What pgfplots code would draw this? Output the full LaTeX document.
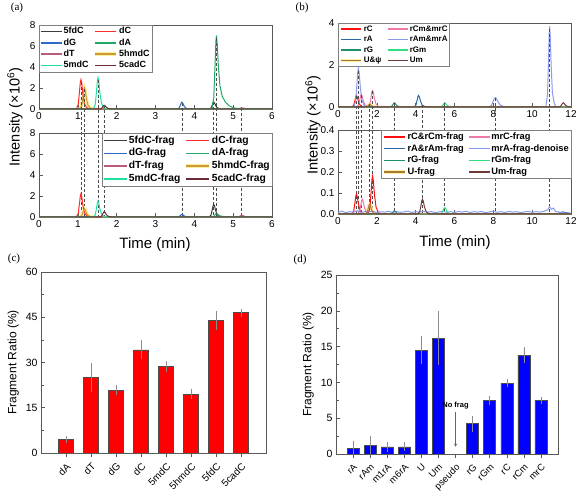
\documentclass[border=0pt]{standalone}
\usepackage{fontspec}
\setmainfont{Liberation Sans}
\newfontfamily\seriffont{Liberation Serif}
\usepackage{pgfplots}
\pgfplotsset{compat=1.18}
\definecolor{cfdC}{HTML}{3C3C3C}
\definecolor{cdC}{HTML}{FF2A2A}
\definecolor{cdG}{HTML}{2B6CC4}
\definecolor{cdA}{HTML}{22A862}
\definecolor{cdT}{HTML}{B85C7A}
\definecolor{chm}{HTML}{C89A3C}
\definecolor{cmdC}{HTML}{1EE0A0}
\definecolor{cca}{HTML}{6A2A36}
\definecolor{glow}{HTML}{FFEE99}
\definecolor{crC}{HTML}{FF1010}
\definecolor{crCm}{HTML}{F078A8}
\definecolor{crA}{HTML}{2A68A8}
\definecolor{crAm}{HTML}{8A9AF0}
\definecolor{crG}{HTML}{20906A}
\definecolor{crGm}{HTML}{30E080}
\definecolor{cU}{HTML}{A87840}
\definecolor{cUm}{HTML}{6E3A3A}
\pgfplotsset{
  base/.style={scale only axis, anchor=south west,
    axis line style={black!65, line width=0.6pt},
    every tick/.style={black!65, line width=0.5pt},
    tick pos=left, enlargelimits=false,
    /pgf/number format/assume math mode=true,
    tick label style={font=\fontsize{10}{12}\selectfont}},
  chrom/.style={base, width=233pt, height=84pt, clip=false,
    every axis plot/.append style={line width=1pt},
    legend columns=2, legend cell align=left},
  dl/.style={black!70, dash pattern=on 3pt off 2pt, line width=0.6pt, forget plot},
  gl/.style={glow, line width=3.4pt, forget plot},
  limg/.style={legend image code/.code={\draw[##1, line width=1.4pt] (0pt,0pt) -- (#1,0pt);}},
  glowleg/.style={legend image code/.code={\draw[glow,line width=3.6pt] (0pt,0pt) -- (#1,0pt);\draw[##1, line width=1.4pt] (0pt,0pt) -- (#1,0pt);}},
}
\begin{document}
\begin{tikzpicture}
\useasboundingbox (0pt,0pt) rectangle (581pt,497pt);
\node[font=\seriffont\fontsize{11}{12}\selectfont] at (17pt,489pt) {(a)};
\node[font=\seriffont\fontsize{11}{12}\selectfont] at (302pt,489pt) {(b)};
\node[font=\seriffont\fontsize{11}{12}\selectfont] at (14pt,238pt) {(c)};
\node[font=\seriffont\fontsize{11}{12}\selectfont] at (300pt,237pt) {(d)};
\node[font=\fontsize{15}{17}\selectfont] at (155pt,252pt) {Time (min)};
\node[font=\fontsize{15}{17}\selectfont] at (455pt,254pt) {Time (min)};
\node[font=\fontsize{14.5}{16}\selectfont, rotate=90] at (15pt,380pt) {Intensity (×10\textsuperscript{6})};
\node[font=\fontsize{14.5}{16}\selectfont, rotate=90] at (313pt,372pt) {Intensity (×10\textsuperscript{6})};

% ---------------- (a) top
\begin{axis}[chrom, at={(39pt,388pt)}, xmin=0, xmax=6, ymin=0, ymax=8,
  xtick={0,...,6}, ytick={0,2,...,8},
  legend style={at={(0,1)}, anchor=north west, draw=black!50, fill=white,
    font=\bfseries\fontsize{9}{10}\selectfont, inner sep=1pt, row sep=0.5pt,
    nodes={inner sep=1pt, text height=6.8pt, text depth=2pt},
    /tikz/every even column/.append style={column sep=4pt}},
  limg=21pt]
\addplot[gl] coordinates {(1.05,0)(1.10,0.3)(1.13,1.1)(1.155,1.84)(1.17,2.0)(1.19,1.76)(1.22,1.0)(1.26,0.36)(1.32,0.08)(1.39,0)};
\addplot[cfdC] coordinates {(0,0)(4.38,0)(4.43,0.1)(4.46,0.36)(4.485,0.6)(4.5,0.65)(4.52,0.57)(4.55,0.33)(4.59,0.12)(4.65,0.03)(4.72,0)(6,0)};
\addlegendentry{5fdC}
\addplot[cdC] coordinates {(0,0)(0.96,0)(1.01,0.42)(1.04,1.54)(1.065,2.58)(1.08,2.8)(1.10,2.46)(1.13,1.4)(1.17,0.5)(1.23,0.11)(1.30,0)(6,0)};
\addlegendentry{dC}
\addplot[cdG] coordinates {(0,0)(3.56,0)(3.61,0.1)(3.64,0.36)(3.665,0.6)(3.68,0.65)(3.70,0.57)(3.73,0.33)(3.77,0.12)(3.83,0.03)(3.90,0)(6,0)};
\addlegendentry{dG}
\addplot[cdA] coordinates {(0,0)(4.45,0)(4.50,1.05)(4.53,3.85)(4.555,6.44)(4.57,7.0)(4.59,6.2)(4.62,4.0)(4.66,2.2)(4.72,1.2)(4.8,0.65)(4.9,0.3)(5.0,0.12)(5.15,0.03)(5.3,0)(6,0)};
\addlegendentry{dA}
\addplot[cdT] coordinates {(0,0)(5.10,0)(5.15,0.04)(5.2,0.11)(5.22,0.12)(5.25,0.1)(5.3,0.05)(5.4,0)(6,0)};
\addlegendentry{dT}
\addplot[chm, glowleg=21pt] coordinates {(0,0)(1.05,0)(1.10,0.3)(1.13,1.1)(1.155,1.84)(1.17,2.0)(1.19,1.76)(1.22,1.0)(1.26,0.36)(1.32,0.08)(1.39,0)(6,0)};
\addlegendentry{5hmdC}
\addplot[cmdC] coordinates {(0,0)(1.40,0)(1.45,0.45)(1.48,1.65)(1.505,2.76)(1.52,3.0)(1.54,2.64)(1.57,1.5)(1.61,0.54)(1.67,0.12)(1.74,0)(6,0)};
\addlegendentry{5mdC}
\addplot[cca] coordinates {(0,0)(1.56,0)(1.61,0.05)(1.64,0.19)(1.665,0.32)(1.68,0.35)(1.70,0.31)(1.73,0.18)(1.77,0.06)(1.83,0.01)(1.90,0)(6,0)};
\addlegendentry{5cadC}
\addplot[dl] coordinates {(1.08,2.6)(1.08,-10.29)};
\addplot[dl] coordinates {(1.17,1.9)(1.17,-10.29)};
\addplot[dl] coordinates {(1.52,2.8)(1.52,-10.29)};
\addplot[dl] coordinates {(1.68,0.35)(1.68,-10.29)};
\addplot[dl] coordinates {(3.68,0.6)(3.68,-10.29)};
\addplot[dl] coordinates {(4.5,0.65)(4.5,-10.29)};
\addplot[dl] coordinates {(4.57,6.8)(4.57,-10.29)};
\addplot[dl] coordinates {(5.22,0.12)(5.22,-10.29)};
\end{axis}

% ---------------- (a) bottom
\begin{axis}[chrom, at={(39pt,280pt)}, xmin=0, xmax=6, ymin=0, ymax=8,
  xtick={0,...,6}, ytick={0,2,...,8},
  legend style={at={(1,1)}, anchor=north east, draw=black!50, fill=white,
    font=\bfseries\fontsize{10.3}{11}\selectfont, inner sep=1pt, row sep=0.6pt,
    nodes={inner sep=1pt, text height=7.9pt, text depth=2.4pt},
    /tikz/every even column/.append style={column sep=3pt}},
  limg=23pt]
\addplot[gl] coordinates {(1.05,0)(1.10,0.12)(1.13,0.44)(1.155,0.74)(1.17,0.8)(1.19,0.7)(1.22,0.4)(1.26,0.14)(1.32,0.03)(1.39,0)};
\addplot[cfdC] coordinates {(0,0)(4.38,0)(4.43,0.18)(4.46,0.66)(4.485,1.1)(4.5,1.2)(4.52,1.06)(4.55,0.6)(4.59,0.22)(4.65,0.05)(4.72,0)(6,0)};
\addlegendentry{5fdC-frag}
\addplot[cdC] coordinates {(0,0)(0.96,0)(1.01,0.33)(1.04,1.21)(1.065,2.02)(1.08,2.2)(1.10,1.94)(1.13,1.1)(1.17,0.4)(1.23,0.09)(1.30,0)(6,0)};
\addlegendentry{dC-frag}
\addplot[cdG] coordinates {(0,0)(3.56,0)(3.61,0.04)(3.64,0.14)(3.665,0.23)(3.68,0.25)(3.70,0.22)(3.73,0.13)(3.77,0.05)(3.83,0.01)(3.90,0)(6,0)};
\addlegendentry{dG-frag}
\addplot[cdA] coordinates {(0,0)(4.45,0)(4.50,0.05)(4.53,0.19)(4.555,0.32)(4.57,0.35)(4.59,0.31)(4.62,0.2)(4.66,0.11)(4.72,0.06)(4.8,0.03)(4.95,0)(6,0)};
\addlegendentry{dA-frag}
\addplot[cdT] coordinates {(0,0)(5.10,0)(5.15,0.05)(5.2,0.14)(5.22,0.15)(5.25,0.13)(5.3,0.06)(5.4,0)(6,0)};
\addlegendentry{dT-frag}
\addplot[chm, glowleg=23pt] coordinates {(0,0)(1.05,0)(1.10,0.12)(1.13,0.44)(1.155,0.74)(1.17,0.8)(1.19,0.7)(1.22,0.4)(1.26,0.14)(1.32,0.03)(1.39,0)(6,0)};
\addlegendentry{5hmdC-frag}
\addplot[cmdC] coordinates {(0,0)(1.40,0)(1.45,0.22)(1.48,0.82)(1.505,1.38)(1.52,1.5)(1.54,1.32)(1.57,0.75)(1.61,0.27)(1.67,0.06)(1.74,0)(6,0)};
\addlegendentry{5mdC-frag}
\addplot[cca] coordinates {(0,0)(1.56,0)(1.61,0.08)(1.64,0.28)(1.665,0.46)(1.68,0.5)(1.70,0.44)(1.73,0.25)(1.77,0.09)(1.83,0.02)(1.90,0)(6,0)};
\addlegendentry{5cadC-frag}
\end{axis}

% ---------------- (b) top
\begin{axis}[chrom, at={(338pt,390pt)}, xmin=0, xmax=12, ymin=0, ymax=4,
  xtick={0,2,...,12}, ytick={0,2,4},
  legend style={at={(0,1)}, anchor=north west, draw=black!50, fill=white,
    font=\bfseries\fontsize{8}{9}\selectfont, inner sep=1pt, row sep=0.5pt,
    nodes={inner sep=1pt, text height=6.2pt, text depth=1.8pt},
    /tikz/every even column/.append style={column sep=5pt}},
  limg=20pt]
\addplot[gl] coordinates {(1.4,0)(1.5,0.02)(1.56,0.07)(1.6,0.11)(1.63,0.12)(1.67,0.1)(1.73,0.06)(1.81,0.02)(1.95,0)};
\addplot[crC] coordinates {(0,0)(0.71,0)(0.81,0.08)(0.87,0.3)(0.92,0.51)(0.95,0.55)(0.99,0.48)(1.05,0.28)(1.13,0.1)(1.25,0.02)(1.39,0)(12,0)};
\addlegendentry{rC}
\addplot[crCm] coordinates {(0,0)(0.96,0)(1.06,0.09)(1.12,0.33)(1.17,0.55)(1.2,0.6)(1.24,0.53)(1.30,0.3)(1.38,0.11)(1.50,0.02)(1.54,0)(1.62,0.05)(1.68,0.3)(1.74,0.72)(1.78,0.78)(1.82,0.69)(1.88,0.39)(1.96,0.14)(2.08,0.03)(2.22,0)(12,0)};
\addlegendentry{rCm\&mrC}
\addplot[crA] coordinates {(0,0)(3.91,0)(4.01,0.08)(4.07,0.3)(4.12,0.51)(4.15,0.55)(4.19,0.48)(4.25,0.28)(4.33,0.1)(4.45,0.02)(4.59,0)(12,0)};
\addlegendentry{rA}
\addplot[crAm] coordinates {(0,0)(0.81,0)(0.91,0.28)(0.97,1.02)(1.02,1.7)(1.05,1.85)(1.09,1.63)(1.15,0.93)(1.23,0.33)(1.35,0.07)(1.49,0)(7.75,0)(7.9,0.07)(7.98,0.25)(8.05,0.41)(8.1,0.45)(8.16,0.4)(8.25,0.23)(8.37,0.08)(8.55,0.02)(8.75,0)(10.7,0)(10.79,0.58)(10.84,2.1)(10.88,3.54)(10.9,3.85)(10.93,3.39)(10.98,1.93)(11.04,0.7)(11.14,0.15)(11.25,0)(12,0)};
\addlegendentry{rAm\&mrA}
\addplot[crG] coordinates {(0,0)(2.66,0)(2.76,0.03)(2.82,0.11)(2.87,0.18)(2.9,0.2)(2.94,0.18)(3.0,0.1)(3.08,0.04)(3.2,0.01)(3.34,0)(12,0)};
\addlegendentry{rG}
\addplot[crGm] coordinates {(0,0)(5.26,0)(5.36,0.03)(5.42,0.11)(5.47,0.18)(5.5,0.2)(5.54,0.18)(5.6,0.1)(5.68,0.04)(5.8,0.01)(5.94,0)(12,0)};
\addlegendentry{rGm}
\addplot[cU, glowleg=20pt] coordinates {(0,0)(1.4,0)(1.5,0.02)(1.56,0.07)(1.6,0.11)(1.63,0.12)(1.67,0.1)(1.73,0.06)(1.81,0.02)(1.95,0)(12,0)};
\addlegendentry{U\&ψ}
\addplot[cUm] coordinates {(0,0)(4.15,0)(4.25,0.02)(4.32,0.045)(4.35,0.05)(4.4,0.04)(4.5,0.015)(4.65,0)(11.36,0)(11.46,0.03)(11.52,0.11)(11.57,0.18)(11.6,0.2)(11.64,0.18)(11.7,0.1)(11.78,0.04)(11.9,0.01)(12,0)};
\addlegendentry{Um}
\addplot[dl] coordinates {(0.95,0.5)(0.95,-5.095)};
\addplot[dl] coordinates {(1.05,1.7)(1.05,-5.095)};
\addplot[dl] coordinates {(1.2,0.55)(1.2,-5.095)};
\addplot[dl] coordinates {(1.62,0.12)(1.62,-5.095)};
\addplot[dl] coordinates {(1.78,0.75)(1.78,-5.095)};
\addplot[dl] coordinates {(2.9,0.2)(2.9,-5.095)};
\addplot[dl] coordinates {(4.35,0.1)(4.35,-5.095)};
\addplot[dl] coordinates {(5.5,0.2)(5.5,-5.095)};
\addplot[dl] coordinates {(8.1,0.42)(8.1,-5.095)};
\addplot[dl] coordinates {(10.9,3.7)(10.9,-5.095)};
\end{axis}

% ---------------- (b) bottom
\begin{axis}[chrom, at={(338pt,283pt)}, xmin=0, xmax=12, ymin=0, ymax=0.4,
  xtick={0,2,...,12}, ytick={0,0.1,0.2,0.3,0.4},
  yticklabel style={/pgf/number format/.cd, fixed, fixed zerofill, precision=1},
  legend style={at={(1,1)}, anchor=north east, draw=black!50, fill=white,
    font=\bfseries\fontsize{9.3}{10}\selectfont, inner sep=1pt, row sep=0.4pt,
    nodes={inner sep=1pt, text height=7.2pt, text depth=2.1pt},
    /tikz/every even column/.append style={column sep=3pt}},
  limg=21pt]
\addplot[gl] coordinates {(1.4,0)(1.5,0.008)(1.56,0.028)(1.6,0.042)(1.63,0.045)(1.67,0.038)(1.73,0.02)(1.81,0.006)(1.95,0)};
\addplot[crC] coordinates {(0,0)(0.71,0)(0.81,0.014)(0.87,0.052)(0.92,0.087)(0.95,0.095)(0.99,0.084)(1.05,0.048)(1.13,0.017)(1.25,0.004)(1.39,0)(1.54,0)(1.64,0.027)(1.70,0.099)(1.75,0.166)(1.78,0.18)(1.82,0.158)(1.88,0.09)(1.96,0.032)(2.08,0.007)(2.22,0)(12,0)};
\addlegendentry{rC\&rCm-frag}
\addplot[crCm] coordinates {(0,0)(1.01,0)(1.11,0.011)(1.17,0.039)(1.22,0.064)(1.25,0.07)(1.29,0.062)(1.35,0.035)(1.43,0.013)(1.55,0.003)(1.69,0)(12,0)};
\addlegendentry{mrC-frag}
\addplot[crA] coordinates {(0,0.002)(11.3,0.002)(11.5,0.008)(11.6,0.01)(11.7,0.007)(11.9,0.004)(12,0.003)};
\addlegendentry{rA\&rAm-frag}
\addplot[crAm] coordinates {(0,0.008)(0.2,0.014)(0.4,0.006)(0.6,0.011)(0.8,0.009)(1.0,0.016)(1.2,0.007)(1.4,0.012)(1.6,0.01)(1.8,0.013)(2.0,0.006)(2.2,0.011)(2.4,0.009)(2.6,0.013)(2.8,0.007)(3.0,0.012)(3.2,0.008)(3.4,0.01)(3.6,0.014)(3.8,0.007)(4.0,0.011)(4.2,0.009)(4.4,0.013)(4.6,0.008)(4.8,0.012)(5.0,0.006)(5.2,0.01)(5.4,0.013)(5.6,0.008)(5.8,0.011)(6.0,0.007)(6.2,0.012)(6.4,0.009)(6.6,0.013)(6.8,0.007)(7.0,0.011)(7.2,0.009)(7.4,0.012)(7.6,0.006)(7.8,0.01)(8.0,0.013)(8.2,0.008)(8.4,0.011)(8.6,0.007)(8.8,0.012)(9.0,0.009)(9.2,0.011)(9.4,0.006)(9.6,0.01)(9.8,0.012)(10.0,0.008)(10.2,0.011)(10.4,0.009)(10.6,0.013)(10.8,0.02)(10.9,0.035)(11.0,0.022)(11.1,0.028)(11.2,0.012)(11.4,0.009)(11.6,0.006)(11.8,0.004)(12.0,0.003)};
\addlegendentry{mrA-frag-denoise}
\addplot[crG] coordinates {(0,0)(2.7,0)(2.8,0.006)(2.86,0.013)(2.9,0.015)(2.95,0.012)(3.02,0.005)(3.15,0)(12,0)};
\addlegendentry{rG-frag}
\addplot[crGm] coordinates {(0,0)(5.28,0)(5.38,0.01)(5.44,0.025)(5.5,0.03)(5.55,0.026)(5.62,0.012)(5.75,0)(12,0)};
\addlegendentry{rGm-frag}
\addplot[cU, glowleg=21pt] coordinates {(0,0)(1.4,0)(1.5,0.008)(1.56,0.028)(1.6,0.042)(1.63,0.045)(1.67,0.038)(1.73,0.02)(1.81,0.006)(1.95,0)(12,0)};
\addlegendentry{U-frag}
\addplot[cUm] coordinates {(0,0)(4.11,0)(4.21,0.011)(4.27,0.039)(4.32,0.064)(4.35,0.07)(4.39,0.062)(4.45,0.035)(4.53,0.013)(4.65,0.003)(4.79,0)(12,0)};
\addlegendentry{Um-frag}
\end{axis}

% ---------------- (c)
\begin{axis}[base, at={(41pt,44pt)}, width=225pt, height=181pt,
  ymin=0, ymax=60, ytick={0,15,30,45,60}, minor y tick num=1,
  tick label style={font=\fontsize{10.5}{12}\selectfont},
  xmin=-1, xmax=8, xtick={0,...,7},
  xticklabels={dA,dT,dG,dC,5mdC,5hmdC,5fdC,5cadC},
  xticklabel style={rotate=45, anchor=north east, font=\fontsize{10}{11}\selectfont},
  ylabel={Fragment Ratio (\%)}, ylabel style={font=\fontsize{12}{14}\selectfont},
  ybar, bar width=15pt,
  error bars/error bar style={black!45, line width=0.5pt},
  error bars/error mark options={black!45, mark size=3pt, line width=0.5pt}]
\addplot[fill=red, draw=black!70, line width=0.5pt, error bars/.cd, y dir=both, y explicit]
  coordinates {(0,4.5) +- (0,0.3) (1,25.0) +- (0,3.8) (2,20.8) +- (0,0.7) (3,34.2) +- (0,2.2)
               (4,28.7) +- (0,0.8) (5,19.5) +- (0,0.7) (6,44.0) +- (0,2.2) (7,46.5) +- (0,0.3)};
\end{axis}

% ---------------- (d)
\begin{axis}[base, at={(336pt,43pt)}, width=222pt, height=179pt,
  ymin=0, ymax=25, ytick={0,5,...,25}, minor y tick num=1,
  tick label style={font=\fontsize{10.5}{12}\selectfont},
  xmin=-1, xmax=12, xtick={0,...,11},
  xticklabels={rA,rAm,m1rA,m6rA,U,Um,pseudo,rG,rGm,rC,rCm,mrC},
  xticklabel style={rotate=45, anchor=north east, font=\fontsize{9.5}{11}\selectfont},
  ylabel={Fragment Ratio (\%)}, ylabel style={font=\fontsize{12}{14}\selectfont},
  ybar, bar width=12pt,
  error bars/error bar style={black!45, line width=0.5pt},
  error bars/error mark options={black!45, mark size=3pt, line width=0.5pt}]
\addplot[fill=blue, draw=black!70, line width=0.5pt, error bars/.cd, y dir=both, y explicit]
  coordinates {(0,0.8) +- (0,0.6) (1,1.25) +- (0,0.8) (2,1.0) +- (0,0.3) (3,1.0) +- (0,0.2)
               (4,14.5) +- (0,1.5) (5,16.2) +- (0,3.3) (7,4.25) +- (0,0.7) (8,7.5) +- (0,0.2)
               (9,9.9) +- (0,0.1) (10,13.8) +- (0,0.7) (11,7.5) +- (0,0.05)};
\node[font=\bfseries\fontsize{7.5}{9}\selectfont] at (axis cs:6,6.8) {No frag};
\draw[-stealth, black!60, line width=0.5pt] (axis cs:6,5.9) -- (axis cs:6,1.0);
\end{axis}
\end{tikzpicture}
\end{document}
